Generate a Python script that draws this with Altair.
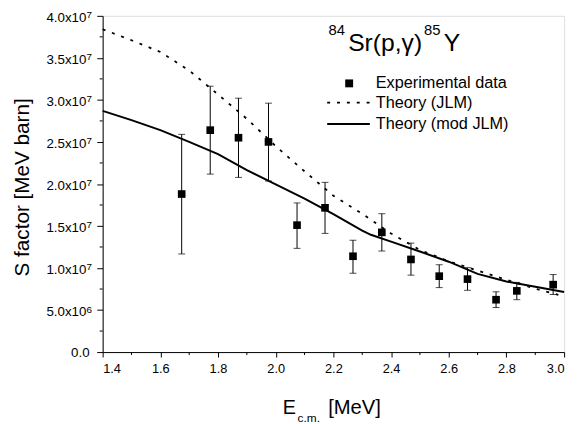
import altair as alt
import pandas as pd

# ---------------- data ----------------
exp_E = [1.674, 1.773, 1.871, 1.975, 2.074, 2.171, 2.268, 2.368, 2.469, 2.567, 2.665, 2.764, 2.836, 2.962]
exp_S = [1.88e7, 2.64e7, 2.55e7, 2.50e7, 1.51e7, 1.716e7, 1.14e7, 1.424e7, 1.102e7, 9.03e6, 8.68e6, 6.23e6, 7.28e6, 8.02e6]
exp_lo = [1.167e7, 2.117e7, 2.078e7, 2.035e7, 1.234e7, 1.412e7, 9.38e6, 1.202e7, 9.15e6, 7.67e6, 7.35e6, 5.30e6, 6.23e6, 6.85e6]
exp_hi = [2.59e7, 3.163e7, 3.02e7, 2.961e7, 1.774e7, 2.019e7, 1.331e7, 1.646e7, 1.296e7, 1.039e7, 1.004e7, 7.17e6, 8.29e6, 9.22e6]

jlm_E = [1.4, 1.5, 1.6, 1.7, 1.8, 1.9, 2.0, 2.1, 2.2, 2.3, 2.4, 2.5, 2.6, 2.7, 2.8, 2.9, 2.98]
jlm_S = [3.84e7, 3.71e7, 3.57e7, 3.35e7, 3.065e7, 2.775e7, 2.45e7, 2.15e7, 1.86e7, 1.645e7, 1.41e7,
         1.215e7, 1.08e7, 9.7e6, 8.6e6, 7.55e6, 6.8e6]

mod_E = [1.4, 1.5, 1.6, 1.7, 1.8, 1.9, 2.0, 2.1, 2.2, 2.3, 2.33, 2.4, 2.5, 2.6, 2.7, 2.8, 2.9, 3.0]
mod_S = [2.87e7, 2.76e7, 2.64e7, 2.50e7, 2.355e7, 2.165e7, 1.995e7, 1.825e7, 1.64e7, 1.445e7, 1.395e7,
         1.314e7, 1.196e7, 1.075e7, 9.3e6, 8.4e6, 7.76e6, 7.15e6]

x_ticks = [1.4, 1.6, 1.8, 2.0, 2.2, 2.4, 2.6, 2.8, 3.0]
x_minor = [1.5, 1.7, 1.9, 2.1, 2.3, 2.5, 2.7, 2.9]
y_ticks = [5e6, 1e7, 1.5e7, 2e7, 2.5e7, 3e7, 3.5e7, 4e7]
y_mantissa = ["5.0x10", "1.0x10", "1.5x10", "2.0x10", "2.5x10", "3.0x10", "3.5x10", "4.0x10"]
y_exponent = ["6", "7", "7", "7", "7", "7", "7", "7"]
y_zero_label = "0.0"
y_minor = [2.5e6, 7.5e6, 1.25e7, 1.75e7, 2.25e7, 2.75e7, 3.25e7, 3.75e7]

legend_labels = ["Experimental data", "Theory (JLM)", "Theory (mod JLM)"]
y_title = "S factor [MeV barn]"

FONT = "Liberation Sans"
W, H = 468, 341
TOP = 5
OFF = 3 - TOP  # shift for annotations laid out for a top padding of 3

xs = alt.Scale(domain=[1.4, 3.0], nice=False, zero=False)
ys = alt.Scale(domain=[0, 4e7], nice=False, zero=False)

exp_df = pd.DataFrame({"E": exp_E, "S": exp_S, "lo": exp_lo, "hi": exp_hi})
jlm_df = pd.DataFrame({"E": jlm_E, "S": jlm_S})
mod_df = pd.DataFrame({"E": mod_E, "S": mod_S})
ylab_df = pd.DataFrame({"S": y_ticks, "m": y_mantissa, "e": y_exponent})
yzero_df = pd.DataFrame({"S": [0.0], "m": [y_zero_label]})

x_enc = alt.X("E:Q", scale=xs, axis=alt.Axis(
    values=x_ticks, format=".1f", title=None, grid=False, tickSize=5, tickColor="black",
    domainColor="black", labelFont=FONT, labelFontSize=13, labelColor="black", labelPadding=6,
    tickWidth=1, domainWidth=1))
y_enc = alt.Y("S:Q", scale=ys, axis=alt.Axis(
    values=[0] + y_ticks, labels=False, title=y_title, grid=False, tickSize=6,
    tickColor="black", domainColor="black", titleFont=FONT, titleFontSize=21,
    titleFontWeight="normal", titleColor="black", titleAngle=270, titleX=-75.7,
    titleY=175.5 + OFF, titleBaseline="alphabetic", titleAlign="center", tickWidth=1,
    domainWidth=1))

err = alt.Chart(exp_df).mark_rule(color="black", strokeWidth=1).encode(
    x=x_enc, y=alt.Y("lo:Q", scale=ys), y2="hi:Q")
cap_hi = alt.Chart(exp_df).mark_tick(orient="horizontal", size=7, thickness=1, color="black").encode(
    x="E:Q", y=alt.Y("hi:Q", scale=ys))
cap_lo = alt.Chart(exp_df).mark_tick(orient="horizontal", size=7, thickness=1, color="black").encode(
    x="E:Q", y=alt.Y("lo:Q", scale=ys))
pts = alt.Chart(exp_df).mark_square(size=60, color="black", opacity=1).encode(x="E:Q", y=y_enc)

jlm_line = alt.Chart(jlm_df).mark_line(color="black", strokeWidth=1.8, strokeDash=[3, 7]).encode(
    x="E:Q", y="S:Q")
mod_line = alt.Chart(mod_df).mark_line(color="black", strokeWidth=2).encode(x="E:Q", y="S:Q")

xm_df = pd.DataFrame({"E": x_minor})
ym_df = pd.DataFrame({"S": y_minor})
x_minor_ticks = alt.Chart(xm_df).mark_rule(color="black", strokeWidth=1).encode(
    x="E:Q", y=alt.value(H), y2=alt.value(H + 3))
y_minor_ticks = alt.Chart(ym_df).mark_rule(color="black", strokeWidth=1).encode(
    y="S:Q", x=alt.value(0), x2=alt.value(-3))

# y tick labels with real superscript exponents
y_mant = alt.Chart(ylab_df).mark_text(
    align="right", baseline="alphabetic", dy=6, font=FONT, fontSize=13.5, color="black"
).encode(y=alt.Y("S:Q", scale=ys), x=alt.value(-16.5), text="m:N")
y_exp = alt.Chart(ylab_df).mark_text(
    align="left", baseline="alphabetic", dy=2.5, font=FONT, fontSize=10, color="black"
).encode(y=alt.Y("S:Q", scale=ys), x=alt.value(-16.3), text="e:N")
y_zero = alt.Chart(yzero_df).mark_text(
    align="right", baseline="alphabetic", dy=4.5, font=FONT, fontSize=13.5, color="black"
).encode(y=alt.Y("S:Q", scale=ys), x=alt.value(-13.3), text="m:N")

one = pd.DataFrame({"a": [0]})


def txt(s, x, y, size, baseline="alphabetic"):
    return alt.Chart(one).mark_text(
        align="left", baseline=baseline, font=FONT, fontSize=size, color="black"
    ).encode(x=alt.value(x), y=alt.value(y + OFF), text=alt.value(s))


# title 84Sr(p,gamma)85Y
title_layers = [
    txt("84", 229, 21, 15),
    txt("Sr(p,\u03b3)", 249, 37.3, 25),
    txt("85", 326, 21, 15),
    txt("Y", 346, 37.3, 25),
]

# legend
leg_sq = alt.Chart(one).mark_square(size=64, color="black", opacity=1).encode(
    x=alt.value(250), y=alt.value(70.5 + OFF))
leg_dot = alt.Chart(one).mark_rule(color="black", strokeWidth=1.8, strokeDash=[3, 7]).encode(
    x=alt.value(227.7), x2=alt.value(271), y=alt.value(90 + OFF))
leg_sol = alt.Chart(one).mark_rule(color="black", strokeWidth=2).encode(
    x=alt.value(227.7), x2=alt.value(271), y=alt.value(111.7 + OFF))
leg_txt = [
    txt(legend_labels[0], 277, 70.5, 16.5, "middle"),
    txt(legend_labels[1], 277, 90, 16.5, "middle"),
    txt(legend_labels[2], 277, 111.7, 16.5, "middle"),
]

# x-axis title with subscript
xtitle = [
    txt("E", 182.7, 406.3, 20),
    txt("c.m.", 197.7, 414, 12),
    txt("[MeV]", 228.7, 406.3, 20.5),
]

chart = alt.layer(
    err, cap_hi, cap_lo, jlm_line, mod_line, pts, x_minor_ticks, y_minor_ticks,
    y_mant, y_exp, y_zero,
    *title_layers, leg_sq, leg_dot, leg_sol, *leg_txt, *xtitle
).properties(
    width=W, height=H,
    autosize=alt.AutoSizeParams(type="none"),
    padding={"left": 96, "top": TOP, "right": 8, "bottom": 70},
).configure_view(stroke=None).configure(background="white")

chart.save("out.html", embed_options={"renderer": "svg", "actions": False})
